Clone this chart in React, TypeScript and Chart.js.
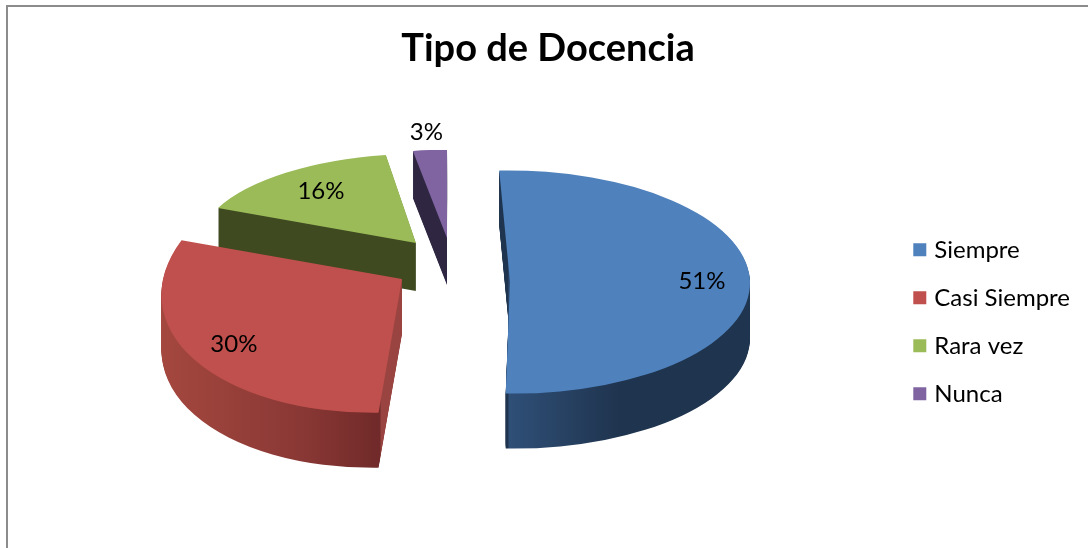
import React, { useEffect, useRef } from "react";
import { Chart, registerables } from "chart.js";

Chart.register(...registerables);

const categories = ["Siempre", "Casi Siempre", "Rara vez", "Nunca"];
const percentages = [51, 30, 16, 3];
const title = "Tipo de Docencia";

const topColors = ["#4f81bd", "#c0504d", "#9bbb59", "#8064a2"];
const FONT = "Lato, Carlito, 'Open Sans', sans-serif";
const RADIUS = 240;
const PIE_CENTER = { x: 455, y: 272 };
// Per-slice explosion shift, depth and [a, b, c, d] view matrix (faked perspective)
const shiftX = [55, -53, -39, -8];
const shiftY = [10, 7, -29, -34];
const depths = [55, 55, 48, 47];
const views = [
  [1, 0, 0.01, 0.465],
  [1, -0.0265, -0.07, 0.557],
  [0.903, 0.0226, -0.0764, 0.371],
  [0.759, 0.0268, -0.0266, 0.366],
];
const labelReach = [0.8, 0.81, 0.73, 1.2];
const wallStops: [number, string][][] = [
  [[500, "#1f344e"], [508, "#1f344e"], [509, "#2f4f77"], [620, "#1f344e"], [760, "#1f344e"]],
  [[157, "#a5483f"], [300, "#8a3835"], [380, "#702a29"], [381, "#9a4441"], [405, "#9a4441"]],
  [[200, "#3f4a21"], [420, "#3f4a21"]],
  [[410, "#2f2742"], [450, "#2f2742"]],
];

const pie3d = {
  id: "pie3d",
  beforeDraw(chart: any) {
    const { ctx } = chart;
    ctx.save();
    ctx.fillStyle = "#8c8c8c";
    ctx.fillRect(6, 5, chart.width - 6, 2);
    ctx.fillRect(6, 5, 2, chart.height - 5);
    ctx.restore();
  },
  beforeDatasetsDraw(chart: any) {
    const { ctx } = chart;
    const arcs = chart.getDatasetMeta(0).data;
    const place = (c: any, i: number, lift: number, arc: any) => {
      const [a, b, cc, d] = views[i];
      c.translate(PIE_CENTER.x + shiftX[i], PIE_CENTER.y + shiftY[i] + lift);
      c.transform(a, b, cc, d, 0, 0);
      c.translate(-arc.x, -arc.y);
    };
    for (let i = arcs.length - 1; i >= 0; i--) {
      const arc = arcs[i];
      const off = document.createElement("canvas");
      off.width = chart.width;
      off.height = chart.height;
      const o = off.getContext("2d")!;
      for (let k = 1; k <= depths[i]; k++) {
        o.save();
        place(o, i, k, arc);
        arc.draw(o);
        o.restore();
      }
      o.globalCompositeOperation = "source-in";
      const g = o.createLinearGradient(0, 0, chart.width, 0);
      wallStops[i].forEach(([x, col]) => g.addColorStop(x / chart.width, col));
      o.fillStyle = g;
      o.fillRect(0, 0, chart.width, chart.height);
      ctx.drawImage(off, 0, 0);
      ctx.save();
      place(ctx, i, 0, arc);
      arc.draw(ctx);
      ctx.restore();
    }
    ctx.save();
    ctx.font = `24px ${FONT}`;
    ctx.fillStyle = "#000";
    ctx.textAlign = "center";
    ctx.textBaseline = "middle";
    arcs.forEach((arc: any, i: number) => {
      const mid = (arc.startAngle + arc.endAngle) / 2;
      const r = RADIUS * labelReach[i];
      const px = Math.cos(mid) * r;
      const py = Math.sin(mid) * r;
      const [a, b, cc, d] = views[i];
      ctx.fillText(
        `${percentages[i]}%`,
        PIE_CENTER.x + shiftX[i] + a * px + cc * py,
        PIE_CENTER.y + shiftY[i] + b * px + d * py
      );
    });
    ctx.restore();
    return false;
  },
};

export default function App() {
  const ref = useRef<HTMLCanvasElement>(null);
  useEffect(() => {
    document.body.style.margin = "0";
    const chart = new Chart(ref.current!, {
      type: "pie",
      data: {
        labels: categories,
        datasets: [
          {
            data: percentages,
            backgroundColor: topColors,
            borderWidth: 0,
            radius: RADIUS,
          } as any,
        ],
      },
      plugins: [pie3d as any],
      options: {
        responsive: false,
        animation: false,
        rotation: -2,
        layout: { padding: { left: 16, right: 8, top: 26 } },
        plugins: {
          tooltip: { enabled: false },
          title: {
            display: true,
            text: title,
            color: "#000",
            font: { family: FONT, size: 38, weight: "bold" },
            padding: { top: 0, bottom: 24 },
          },
          legend: {
            position: "right",
            fullSize: false,
            labels: {
              usePointStyle: true,
              pointStyle: "rect",
              boxWidth: 5,
              boxHeight: 13,
              padding: 24,
              color: "#000",
              font: { family: FONT, size: 24 },
            },
          },
        },
      } as any,
    });
    return () => chart.destroy();
  }, []);
  return <canvas ref={ref} width={1088} height={548} style={{ display: "block" }} />;
}
